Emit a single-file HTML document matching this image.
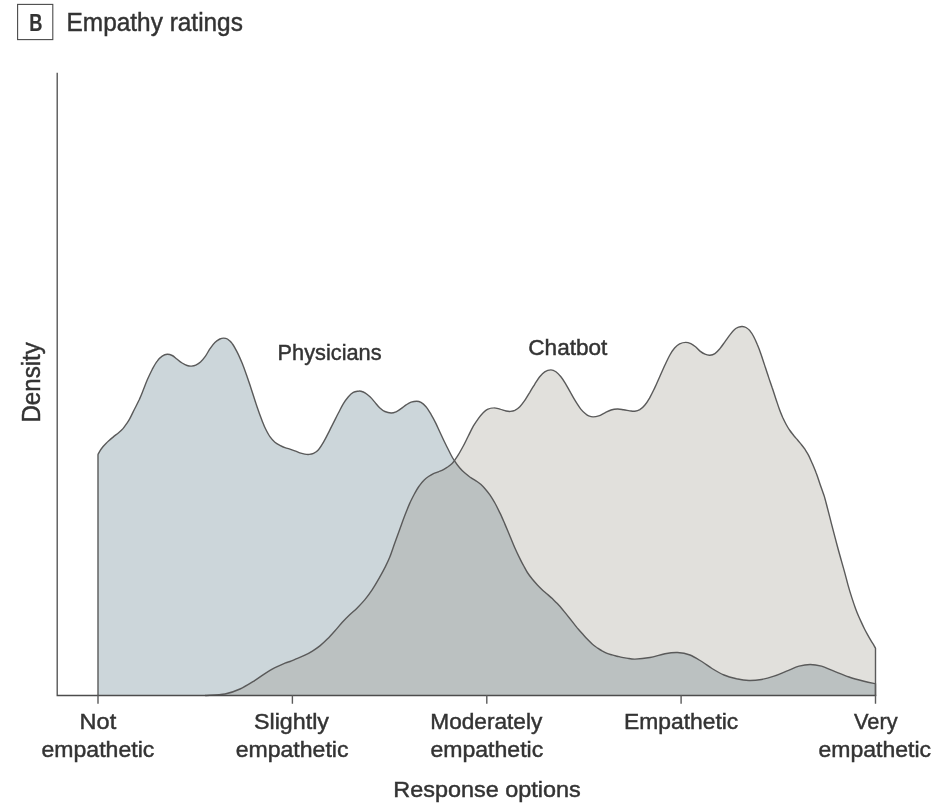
<!DOCTYPE html>
<html lang="en">
<head>
<meta charset="utf-8">
<title>Empathy ratings</title>
<style>
html,body{margin:0;padding:0;background:#fff;}
body{width:932px;height:804px;overflow:hidden;}
svg{display:block;}
text{font-family:"Liberation Sans",sans-serif;fill:#333;stroke:#333;stroke-width:0.45px;}
</style>
</head>
<body>
<svg width="932" height="804" viewBox="0 0 932 804">
<defs>
<clipPath id="pc"><path d="M98,695.5L98,454.5C98.3,454.0 98.9,452.6 99.7,451.3C100.5,450.0 101.8,448.2 102.9,446.8C104.0,445.4 105.1,444.3 106.2,443.2C107.3,442.1 108.2,441.3 109.4,440.2C110.6,439.1 112.1,437.9 113.6,436.6C115.1,435.4 117.0,434.0 118.6,432.7C120.2,431.4 121.7,430.1 123.0,428.6C124.3,427.1 125.6,425.2 126.7,423.6C127.8,422.0 128.8,420.6 129.8,418.7C130.8,416.8 131.9,414.5 132.9,412.4C133.9,410.3 134.9,408.3 136.0,406.2C137.1,404.1 138.1,402.1 139.2,399.8C140.2,397.5 141.0,395.7 142.3,392.4C143.7,389.1 145.6,383.7 147.3,379.8C149.0,375.9 150.7,372.3 152.3,369.2C154.0,366.1 155.5,363.3 157.2,361.1C158.8,358.9 160.5,357.2 162.2,356.1C163.9,355.0 165.5,354.4 167.2,354.3C168.9,354.2 170.5,354.7 172.2,355.5C173.9,356.3 175.5,358.1 177.2,359.3C178.8,360.6 180.4,362.0 182.1,363.0C183.8,364.0 185.5,365.0 187.1,365.5C188.7,366.0 190.1,366.2 191.5,366.1C192.9,366.0 194.3,365.8 195.8,365.1C197.3,364.4 198.9,363.5 200.5,362.0C202.1,360.5 203.9,358.3 205.5,356.1C207.1,353.9 208.4,351.0 210.0,348.7C211.6,346.4 213.2,344.0 214.9,342.4C216.6,340.8 218.5,339.7 219.9,339.0C221.3,338.3 222.3,338.1 223.6,338.1C224.8,338.1 225.9,338.1 227.4,339.0C228.9,339.9 230.7,341.5 232.3,343.7C234.0,345.9 235.6,349.1 237.3,352.4C239.0,355.7 240.6,359.5 242.3,363.6C244.0,367.8 245.6,372.5 247.3,377.3C249.0,382.1 250.7,387.2 252.3,392.2C254.0,397.2 255.5,402.4 257.2,407.2C258.8,412.0 260.8,417.3 262.2,420.9C263.6,424.5 264.2,426.2 265.5,428.8C266.8,431.4 268.3,434.4 269.9,436.6C271.5,438.8 273.2,440.8 274.9,442.2C276.6,443.6 278.2,444.4 279.9,445.3C281.6,446.2 283.2,447.0 284.9,447.6C286.6,448.2 288.2,448.6 289.9,449.1C291.5,449.7 293.1,450.3 294.8,450.9C296.5,451.5 298.1,452.3 299.8,452.8C301.5,453.3 303.2,453.8 304.8,454.1C306.4,454.4 307.7,454.5 309.1,454.4C310.6,454.3 311.9,454.2 313.5,453.4C315.1,452.6 316.8,451.6 318.5,449.7C320.2,447.8 321.9,445.0 323.5,442.2C325.1,439.4 326.8,436.1 328.4,432.9C330.0,429.7 331.7,426.2 333.4,422.9C335.1,419.6 336.7,416.2 338.4,413.0C340.1,409.8 341.7,406.3 343.4,403.6C345.1,400.9 346.8,398.7 348.4,396.8C350.0,394.9 351.6,393.3 353.3,392.4C355.0,391.5 357.1,391.4 358.3,391.2C359.6,391.0 359.7,390.9 360.8,391.2C361.9,391.5 363.5,391.9 365.0,392.8C366.5,393.7 368.3,395.2 370.0,396.8C371.7,398.4 373.4,400.5 375.0,402.4C376.6,404.3 378.2,406.5 379.9,408.0C381.5,409.5 383.0,410.7 384.9,411.5C386.8,412.3 389.2,412.9 391.1,413.0C393.0,413.1 394.4,412.5 396.1,411.8C397.8,411.1 399.4,409.8 401.1,408.6C402.8,407.5 404.4,406.0 406.1,404.9C407.8,403.8 409.3,402.8 411.1,402.2C412.9,401.6 415.1,401.2 416.7,401.2C418.3,401.2 419.4,401.5 421.0,402.4C422.6,403.3 424.3,404.8 426.0,406.8C427.7,408.8 429.3,411.5 431.0,414.3C432.7,417.1 434.4,420.3 436.0,423.6C437.6,426.9 439.2,430.7 440.9,434.2C442.5,437.7 444.2,441.3 445.9,444.7C447.6,448.1 449.5,452.0 450.9,454.7C452.3,457.4 452.9,458.5 454.4,460.7C455.8,462.9 457.9,465.8 459.6,467.8C461.3,469.8 462.7,471.2 464.6,472.8C466.5,474.4 468.7,476.2 470.8,477.7C472.9,479.1 475.3,480.4 477.0,481.5C478.7,482.6 479.7,483.4 481.0,484.6C482.3,485.8 483.5,487.0 485.0,488.7C486.5,490.4 488.2,492.5 489.9,494.9C491.5,497.3 493.2,500.0 494.9,503.0C496.6,506.0 498.2,509.4 499.9,512.9C501.6,516.4 503.2,520.2 504.9,524.1C506.6,528.0 508.2,532.0 509.9,536.0C511.5,540.0 513.1,544.1 514.8,547.8C516.4,551.5 518.3,555.4 519.8,558.4C521.2,561.4 522.2,563.1 523.5,565.5C524.8,567.9 525.9,570.2 527.4,572.5C528.9,574.8 530.7,577.2 532.4,579.3C534.1,581.4 535.7,583.1 537.4,584.9C539.1,586.7 540.7,588.3 542.4,589.9C544.1,591.5 545.8,592.8 547.4,594.3C549.0,595.8 550.6,597.0 552.3,598.6C553.9,600.2 555.6,601.8 557.3,603.6C559.0,605.4 560.6,607.2 562.3,609.2C564.0,611.2 565.6,613.3 567.3,615.4C569.0,617.5 570.6,619.5 572.3,621.6C573.9,623.7 575.6,625.9 577.2,627.9C578.9,629.9 580.5,631.6 582.2,633.5C583.9,635.4 585.5,637.4 587.2,639.1C588.9,640.9 590.5,642.5 592.2,644.0C593.9,645.5 595.6,646.6 597.2,647.8C598.9,648.9 600.5,650.0 602.1,650.9C603.8,651.8 605.4,652.7 607.1,653.4C608.8,654.1 610.4,654.4 612.1,654.9C613.8,655.4 615.5,655.8 617.1,656.2C618.8,656.6 620.4,657.1 622.0,657.4C623.6,657.7 624.8,657.8 627.0,658.1C629.2,658.4 631.2,659.2 635.0,659.1C638.8,659.0 645.0,658.4 650.0,657.5C655.0,656.6 660.4,654.6 665.0,653.8C669.6,652.9 673.3,652.3 677.5,652.5C681.7,652.7 685.8,653.4 690.0,655.0C694.2,656.6 698.8,659.8 702.5,662.0C706.2,664.2 708.4,666.3 712.0,668.5C715.6,670.7 719.9,673.3 724.0,675.0C728.1,676.7 732.3,677.8 736.5,678.8C740.7,679.7 744.8,680.4 749.0,680.5C753.2,680.6 757.3,680.2 761.5,679.5C765.7,678.8 769.8,677.6 774.0,676.2C778.2,674.9 782.3,672.9 786.5,671.2C790.7,669.6 795.0,667.4 799.0,666.2C803.0,665.1 806.5,664.5 810.2,664.5C814.0,664.5 817.5,665.1 821.5,666.2C825.5,667.4 829.4,669.5 834.0,671.2C838.6,673.0 844.0,675.3 849.0,677.0C854.0,678.7 859.6,680.1 864.0,681.2C868.4,682.4 873.6,683.3 875.5,683.7L875.5,695.5Z"/></clipPath>
</defs>
<rect x="0" y="0" width="932" height="804" fill="#fff"/>
<!-- panel letter -->
<rect x="17.6" y="4.4" width="35.2" height="35.2" fill="#fff" stroke="#4a4a4a" stroke-width="1.1"/>
<text x="29.2" y="30.5" font-size="23.5" font-weight="bold" textLength="13.2" lengthAdjust="spacingAndGlyphs" style="stroke-width:0.2px">B</text>
<text x="66.6" y="30.9" font-size="25" textLength="176.3" lengthAdjust="spacingAndGlyphs">Empathy ratings</text>
<!-- areas -->
<path d="M98,695.5L98,454.5C98.3,454.0 98.9,452.6 99.7,451.3C100.5,450.0 101.8,448.2 102.9,446.8C104.0,445.4 105.1,444.3 106.2,443.2C107.3,442.1 108.2,441.3 109.4,440.2C110.6,439.1 112.1,437.9 113.6,436.6C115.1,435.4 117.0,434.0 118.6,432.7C120.2,431.4 121.7,430.1 123.0,428.6C124.3,427.1 125.6,425.2 126.7,423.6C127.8,422.0 128.8,420.6 129.8,418.7C130.8,416.8 131.9,414.5 132.9,412.4C133.9,410.3 134.9,408.3 136.0,406.2C137.1,404.1 138.1,402.1 139.2,399.8C140.2,397.5 141.0,395.7 142.3,392.4C143.7,389.1 145.6,383.7 147.3,379.8C149.0,375.9 150.7,372.3 152.3,369.2C154.0,366.1 155.5,363.3 157.2,361.1C158.8,358.9 160.5,357.2 162.2,356.1C163.9,355.0 165.5,354.4 167.2,354.3C168.9,354.2 170.5,354.7 172.2,355.5C173.9,356.3 175.5,358.1 177.2,359.3C178.8,360.6 180.4,362.0 182.1,363.0C183.8,364.0 185.5,365.0 187.1,365.5C188.7,366.0 190.1,366.2 191.5,366.1C192.9,366.0 194.3,365.8 195.8,365.1C197.3,364.4 198.9,363.5 200.5,362.0C202.1,360.5 203.9,358.3 205.5,356.1C207.1,353.9 208.4,351.0 210.0,348.7C211.6,346.4 213.2,344.0 214.9,342.4C216.6,340.8 218.5,339.7 219.9,339.0C221.3,338.3 222.3,338.1 223.6,338.1C224.8,338.1 225.9,338.1 227.4,339.0C228.9,339.9 230.7,341.5 232.3,343.7C234.0,345.9 235.6,349.1 237.3,352.4C239.0,355.7 240.6,359.5 242.3,363.6C244.0,367.8 245.6,372.5 247.3,377.3C249.0,382.1 250.7,387.2 252.3,392.2C254.0,397.2 255.5,402.4 257.2,407.2C258.8,412.0 260.8,417.3 262.2,420.9C263.6,424.5 264.2,426.2 265.5,428.8C266.8,431.4 268.3,434.4 269.9,436.6C271.5,438.8 273.2,440.8 274.9,442.2C276.6,443.6 278.2,444.4 279.9,445.3C281.6,446.2 283.2,447.0 284.9,447.6C286.6,448.2 288.2,448.6 289.9,449.1C291.5,449.7 293.1,450.3 294.8,450.9C296.5,451.5 298.1,452.3 299.8,452.8C301.5,453.3 303.2,453.8 304.8,454.1C306.4,454.4 307.7,454.5 309.1,454.4C310.6,454.3 311.9,454.2 313.5,453.4C315.1,452.6 316.8,451.6 318.5,449.7C320.2,447.8 321.9,445.0 323.5,442.2C325.1,439.4 326.8,436.1 328.4,432.9C330.0,429.7 331.7,426.2 333.4,422.9C335.1,419.6 336.7,416.2 338.4,413.0C340.1,409.8 341.7,406.3 343.4,403.6C345.1,400.9 346.8,398.7 348.4,396.8C350.0,394.9 351.6,393.3 353.3,392.4C355.0,391.5 357.1,391.4 358.3,391.2C359.6,391.0 359.7,390.9 360.8,391.2C361.9,391.5 363.5,391.9 365.0,392.8C366.5,393.7 368.3,395.2 370.0,396.8C371.7,398.4 373.4,400.5 375.0,402.4C376.6,404.3 378.2,406.5 379.9,408.0C381.5,409.5 383.0,410.7 384.9,411.5C386.8,412.3 389.2,412.9 391.1,413.0C393.0,413.1 394.4,412.5 396.1,411.8C397.8,411.1 399.4,409.8 401.1,408.6C402.8,407.5 404.4,406.0 406.1,404.9C407.8,403.8 409.3,402.8 411.1,402.2C412.9,401.6 415.1,401.2 416.7,401.2C418.3,401.2 419.4,401.5 421.0,402.4C422.6,403.3 424.3,404.8 426.0,406.8C427.7,408.8 429.3,411.5 431.0,414.3C432.7,417.1 434.4,420.3 436.0,423.6C437.6,426.9 439.2,430.7 440.9,434.2C442.5,437.7 444.2,441.3 445.9,444.7C447.6,448.1 449.5,452.0 450.9,454.7C452.3,457.4 452.9,458.5 454.4,460.7C455.8,462.9 457.9,465.8 459.6,467.8C461.3,469.8 462.7,471.2 464.6,472.8C466.5,474.4 468.7,476.2 470.8,477.7C472.9,479.1 475.3,480.4 477.0,481.5C478.7,482.6 479.7,483.4 481.0,484.6C482.3,485.8 483.5,487.0 485.0,488.7C486.5,490.4 488.2,492.5 489.9,494.9C491.5,497.3 493.2,500.0 494.9,503.0C496.6,506.0 498.2,509.4 499.9,512.9C501.6,516.4 503.2,520.2 504.9,524.1C506.6,528.0 508.2,532.0 509.9,536.0C511.5,540.0 513.1,544.1 514.8,547.8C516.4,551.5 518.3,555.4 519.8,558.4C521.2,561.4 522.2,563.1 523.5,565.5C524.8,567.9 525.9,570.2 527.4,572.5C528.9,574.8 530.7,577.2 532.4,579.3C534.1,581.4 535.7,583.1 537.4,584.9C539.1,586.7 540.7,588.3 542.4,589.9C544.1,591.5 545.8,592.8 547.4,594.3C549.0,595.8 550.6,597.0 552.3,598.6C553.9,600.2 555.6,601.8 557.3,603.6C559.0,605.4 560.6,607.2 562.3,609.2C564.0,611.2 565.6,613.3 567.3,615.4C569.0,617.5 570.6,619.5 572.3,621.6C573.9,623.7 575.6,625.9 577.2,627.9C578.9,629.9 580.5,631.6 582.2,633.5C583.9,635.4 585.5,637.4 587.2,639.1C588.9,640.9 590.5,642.5 592.2,644.0C593.9,645.5 595.6,646.6 597.2,647.8C598.9,648.9 600.5,650.0 602.1,650.9C603.8,651.8 605.4,652.7 607.1,653.4C608.8,654.1 610.4,654.4 612.1,654.9C613.8,655.4 615.5,655.8 617.1,656.2C618.8,656.6 620.4,657.1 622.0,657.4C623.6,657.7 624.8,657.8 627.0,658.1C629.2,658.4 631.2,659.2 635.0,659.1C638.8,659.0 645.0,658.4 650.0,657.5C655.0,656.6 660.4,654.6 665.0,653.8C669.6,652.9 673.3,652.3 677.5,652.5C681.7,652.7 685.8,653.4 690.0,655.0C694.2,656.6 698.8,659.8 702.5,662.0C706.2,664.2 708.4,666.3 712.0,668.5C715.6,670.7 719.9,673.3 724.0,675.0C728.1,676.7 732.3,677.8 736.5,678.8C740.7,679.7 744.8,680.4 749.0,680.5C753.2,680.6 757.3,680.2 761.5,679.5C765.7,678.8 769.8,677.6 774.0,676.2C778.2,674.9 782.3,672.9 786.5,671.2C790.7,669.6 795.0,667.4 799.0,666.2C803.0,665.1 806.5,664.5 810.2,664.5C814.0,664.5 817.5,665.1 821.5,666.2C825.5,667.4 829.4,669.5 834.0,671.2C838.6,673.0 844.0,675.3 849.0,677.0C854.0,678.7 859.6,680.1 864.0,681.2C868.4,682.4 873.6,683.3 875.5,683.7L875.5,695.5Z" fill="#ccd6da"/>
<path d="M205.0,695.5C208.3,695.2 219.2,695.1 225.0,694.0C230.8,692.9 235.0,691.3 240.0,689.0C245.0,686.7 250.0,683.4 255.0,680.3C260.0,677.2 265.0,673.1 270.0,670.3C275.0,667.4 281.7,664.7 285.0,663.2C288.3,661.7 287.9,662.3 290.0,661.5C292.1,660.7 295.0,659.4 297.5,658.4C300.0,657.4 302.4,656.4 304.9,655.2C307.4,654.0 309.9,652.7 312.4,651.1C314.9,649.5 317.4,647.9 319.9,645.9C322.4,643.9 324.8,641.6 327.3,639.1C329.8,636.6 332.3,633.8 334.8,631.0C337.3,628.2 339.8,625.0 342.3,622.3C344.8,619.6 347.2,617.2 349.7,614.8C352.2,612.4 354.7,610.4 357.2,607.9C359.7,605.4 362.2,602.9 364.7,599.9C367.2,596.9 369.6,593.6 372.1,589.9C374.6,586.1 377.4,581.3 379.6,577.4C381.8,573.5 383.7,570.0 385.4,566.6C387.1,563.2 388.4,560.6 389.9,556.8C391.4,552.9 393.0,548.0 394.6,543.5C396.2,539.0 397.9,534.4 399.6,529.8C401.3,525.2 402.9,520.5 404.6,516.1C406.3,511.7 407.9,507.5 409.6,503.6C411.3,499.7 413.4,495.8 415.0,492.8C416.6,489.8 417.9,487.9 419.3,485.8C420.8,483.7 422.2,481.9 423.7,480.4C425.2,478.8 426.9,477.6 428.5,476.5C430.1,475.4 431.9,474.4 433.5,473.6C435.1,472.8 436.8,472.5 438.4,471.8C440.0,471.1 441.7,470.5 443.4,469.6C445.1,468.7 446.9,467.5 448.4,466.5C449.8,465.5 451.1,464.4 452.1,463.4C453.1,462.4 453.3,462.1 454.4,460.7C455.4,459.2 456.9,457.1 458.4,454.7C459.9,452.2 461.6,449.1 463.3,446.0C465.0,442.9 466.6,439.3 468.3,436.0C470.0,432.7 471.6,429.1 473.3,426.1C475.0,423.2 477.0,420.4 478.5,418.3C480.0,416.2 481.0,415.0 482.5,413.5C484.0,412.0 485.5,410.3 487.4,409.4C489.3,408.5 491.6,407.9 493.7,407.9C495.8,407.8 497.8,408.6 499.9,409.1C502.0,409.6 504.3,410.6 506.1,411.0C507.9,411.4 509.1,411.5 510.5,411.4C511.9,411.3 513.2,411.2 514.8,410.4C516.3,409.6 518.1,408.4 519.8,406.7C521.5,405.0 523.1,402.8 524.8,400.4C526.5,398.0 528.1,395.0 529.8,392.3C531.4,389.6 533.1,386.9 534.7,384.3C536.4,381.7 538.0,378.9 539.7,376.8C541.4,374.7 542.8,373.0 544.7,371.8C546.6,370.6 549.0,369.9 550.9,369.9C552.8,369.9 554.2,370.6 555.9,371.8C557.6,373.0 559.2,374.7 560.9,376.8C562.6,378.9 564.2,381.6 565.9,384.3C567.5,387.0 569.1,390.1 570.8,393.0C572.4,395.9 574.1,399.0 575.8,401.7C577.5,404.4 579.2,407.1 580.8,409.1C582.4,411.1 584.2,412.7 585.5,413.8C586.8,414.9 587.4,415.4 588.7,415.9C590.0,416.4 591.4,416.9 593.1,416.9C594.8,416.9 596.7,416.6 598.7,415.9C600.7,415.2 602.8,413.8 604.9,412.8C607.0,411.8 609.0,410.6 611.1,410.0C613.2,409.4 615.3,409.1 617.4,409.0C619.5,408.9 621.5,409.4 623.6,409.7C625.7,410.0 627.9,410.6 629.8,410.9C631.7,411.1 633.1,411.4 634.8,411.2C636.5,411.0 638.1,410.7 639.8,409.7C641.4,408.7 643.1,407.3 644.7,405.3C646.4,403.3 648.0,400.7 649.7,397.8C651.4,394.9 653.0,391.4 654.7,387.9C656.4,384.4 658.0,380.4 659.7,376.7C661.4,373.0 663.1,369.0 664.7,365.5C666.4,362.0 668.0,358.4 669.6,355.5C671.2,352.6 672.9,349.9 674.6,348.0C676.3,346.1 677.7,344.8 679.6,343.9C681.5,343.0 683.9,342.4 685.8,342.4C687.7,342.4 689.2,343.0 690.8,343.7C692.4,344.4 694.0,345.6 695.5,346.8C697.0,348.0 698.4,349.9 700.0,351.1C701.6,352.3 703.4,353.5 705.0,354.2C706.6,354.9 708.2,355.3 709.9,355.2C711.5,355.1 713.2,354.7 714.9,353.6C716.6,352.5 718.2,350.6 719.9,348.6C721.6,346.6 723.2,344.1 724.9,341.8C726.6,339.5 728.2,337.0 729.9,334.9C731.5,332.8 733.3,330.6 734.8,329.3C736.2,328.0 737.4,327.7 738.6,327.2C739.9,326.7 741.1,326.4 742.3,326.5C743.5,326.6 744.8,326.8 746.0,327.5C747.2,328.2 748.5,329.2 749.8,330.6C751.0,332.1 752.3,333.9 753.5,336.2C754.7,338.5 756.0,341.3 757.2,344.3C758.5,347.3 759.8,350.7 761.0,354.2C762.2,357.7 763.5,361.7 764.7,365.4C765.9,369.1 767.1,372.9 768.4,376.6C769.6,380.3 771.0,384.1 772.2,387.8C773.5,391.5 774.7,395.5 775.9,399.0C777.1,402.5 778.2,405.9 779.3,409.0C780.4,412.1 781.5,414.7 782.6,417.3C783.8,419.9 785.0,422.3 786.2,424.5C787.4,426.7 788.6,428.7 789.9,430.5C791.1,432.3 792.5,433.9 793.7,435.5C795.0,437.1 796.2,438.4 797.4,439.8C798.6,441.2 799.9,442.6 801.1,444.2C802.4,445.8 803.6,447.3 804.9,449.2C806.1,451.1 807.4,453.0 808.6,455.4C809.8,457.8 811.0,460.6 812.3,463.5C813.5,466.4 814.9,469.5 816.1,472.8C817.4,476.1 818.6,479.9 819.8,483.4C821.0,486.9 822.6,491.3 823.5,494.0C824.4,496.7 823.9,494.8 825.2,499.5C826.5,504.2 829.1,514.5 831.1,522.3C833.1,530.0 835.2,538.1 837.3,546.0C839.4,553.9 842.1,563.2 843.9,569.6C845.7,576.0 846.6,579.9 847.9,584.6C849.2,589.3 850.6,593.9 851.9,597.9C853.2,601.9 854.5,605.7 855.6,608.7C856.7,611.7 857.4,613.4 858.4,615.7C859.4,618.0 860.4,620.2 861.4,622.4C862.4,624.6 863.4,626.7 864.4,628.7C865.4,630.7 866.4,632.5 867.4,634.3C868.4,636.1 869.4,637.9 870.4,639.6C871.4,641.3 872.5,643.0 873.4,644.4C874.2,645.8 875.1,647.5 875.5,648.1L875.5,695.5Z" fill="#e1e0dc"/>
<path d="M205.0,695.5C208.3,695.2 219.2,695.1 225.0,694.0C230.8,692.9 235.0,691.3 240.0,689.0C245.0,686.7 250.0,683.4 255.0,680.3C260.0,677.2 265.0,673.1 270.0,670.3C275.0,667.4 281.7,664.7 285.0,663.2C288.3,661.7 287.9,662.3 290.0,661.5C292.1,660.7 295.0,659.4 297.5,658.4C300.0,657.4 302.4,656.4 304.9,655.2C307.4,654.0 309.9,652.7 312.4,651.1C314.9,649.5 317.4,647.9 319.9,645.9C322.4,643.9 324.8,641.6 327.3,639.1C329.8,636.6 332.3,633.8 334.8,631.0C337.3,628.2 339.8,625.0 342.3,622.3C344.8,619.6 347.2,617.2 349.7,614.8C352.2,612.4 354.7,610.4 357.2,607.9C359.7,605.4 362.2,602.9 364.7,599.9C367.2,596.9 369.6,593.6 372.1,589.9C374.6,586.1 377.4,581.3 379.6,577.4C381.8,573.5 383.7,570.0 385.4,566.6C387.1,563.2 388.4,560.6 389.9,556.8C391.4,552.9 393.0,548.0 394.6,543.5C396.2,539.0 397.9,534.4 399.6,529.8C401.3,525.2 402.9,520.5 404.6,516.1C406.3,511.7 407.9,507.5 409.6,503.6C411.3,499.7 413.4,495.8 415.0,492.8C416.6,489.8 417.9,487.9 419.3,485.8C420.8,483.7 422.2,481.9 423.7,480.4C425.2,478.8 426.9,477.6 428.5,476.5C430.1,475.4 431.9,474.4 433.5,473.6C435.1,472.8 436.8,472.5 438.4,471.8C440.0,471.1 441.7,470.5 443.4,469.6C445.1,468.7 446.9,467.5 448.4,466.5C449.8,465.5 451.1,464.4 452.1,463.4C453.1,462.4 453.3,462.1 454.4,460.7C455.4,459.2 456.9,457.1 458.4,454.7C459.9,452.2 461.6,449.1 463.3,446.0C465.0,442.9 466.6,439.3 468.3,436.0C470.0,432.7 471.6,429.1 473.3,426.1C475.0,423.2 477.0,420.4 478.5,418.3C480.0,416.2 481.0,415.0 482.5,413.5C484.0,412.0 485.5,410.3 487.4,409.4C489.3,408.5 491.6,407.9 493.7,407.9C495.8,407.8 497.8,408.6 499.9,409.1C502.0,409.6 504.3,410.6 506.1,411.0C507.9,411.4 509.1,411.5 510.5,411.4C511.9,411.3 513.2,411.2 514.8,410.4C516.3,409.6 518.1,408.4 519.8,406.7C521.5,405.0 523.1,402.8 524.8,400.4C526.5,398.0 528.1,395.0 529.8,392.3C531.4,389.6 533.1,386.9 534.7,384.3C536.4,381.7 538.0,378.9 539.7,376.8C541.4,374.7 542.8,373.0 544.7,371.8C546.6,370.6 549.0,369.9 550.9,369.9C552.8,369.9 554.2,370.6 555.9,371.8C557.6,373.0 559.2,374.7 560.9,376.8C562.6,378.9 564.2,381.6 565.9,384.3C567.5,387.0 569.1,390.1 570.8,393.0C572.4,395.9 574.1,399.0 575.8,401.7C577.5,404.4 579.2,407.1 580.8,409.1C582.4,411.1 584.2,412.7 585.5,413.8C586.8,414.9 587.4,415.4 588.7,415.9C590.0,416.4 591.4,416.9 593.1,416.9C594.8,416.9 596.7,416.6 598.7,415.9C600.7,415.2 602.8,413.8 604.9,412.8C607.0,411.8 609.0,410.6 611.1,410.0C613.2,409.4 615.3,409.1 617.4,409.0C619.5,408.9 621.5,409.4 623.6,409.7C625.7,410.0 627.9,410.6 629.8,410.9C631.7,411.1 633.1,411.4 634.8,411.2C636.5,411.0 638.1,410.7 639.8,409.7C641.4,408.7 643.1,407.3 644.7,405.3C646.4,403.3 648.0,400.7 649.7,397.8C651.4,394.9 653.0,391.4 654.7,387.9C656.4,384.4 658.0,380.4 659.7,376.7C661.4,373.0 663.1,369.0 664.7,365.5C666.4,362.0 668.0,358.4 669.6,355.5C671.2,352.6 672.9,349.9 674.6,348.0C676.3,346.1 677.7,344.8 679.6,343.9C681.5,343.0 683.9,342.4 685.8,342.4C687.7,342.4 689.2,343.0 690.8,343.7C692.4,344.4 694.0,345.6 695.5,346.8C697.0,348.0 698.4,349.9 700.0,351.1C701.6,352.3 703.4,353.5 705.0,354.2C706.6,354.9 708.2,355.3 709.9,355.2C711.5,355.1 713.2,354.7 714.9,353.6C716.6,352.5 718.2,350.6 719.9,348.6C721.6,346.6 723.2,344.1 724.9,341.8C726.6,339.5 728.2,337.0 729.9,334.9C731.5,332.8 733.3,330.6 734.8,329.3C736.2,328.0 737.4,327.7 738.6,327.2C739.9,326.7 741.1,326.4 742.3,326.5C743.5,326.6 744.8,326.8 746.0,327.5C747.2,328.2 748.5,329.2 749.8,330.6C751.0,332.1 752.3,333.9 753.5,336.2C754.7,338.5 756.0,341.3 757.2,344.3C758.5,347.3 759.8,350.7 761.0,354.2C762.2,357.7 763.5,361.7 764.7,365.4C765.9,369.1 767.1,372.9 768.4,376.6C769.6,380.3 771.0,384.1 772.2,387.8C773.5,391.5 774.7,395.5 775.9,399.0C777.1,402.5 778.2,405.9 779.3,409.0C780.4,412.1 781.5,414.7 782.6,417.3C783.8,419.9 785.0,422.3 786.2,424.5C787.4,426.7 788.6,428.7 789.9,430.5C791.1,432.3 792.5,433.9 793.7,435.5C795.0,437.1 796.2,438.4 797.4,439.8C798.6,441.2 799.9,442.6 801.1,444.2C802.4,445.8 803.6,447.3 804.9,449.2C806.1,451.1 807.4,453.0 808.6,455.4C809.8,457.8 811.0,460.6 812.3,463.5C813.5,466.4 814.9,469.5 816.1,472.8C817.4,476.1 818.6,479.9 819.8,483.4C821.0,486.9 822.6,491.3 823.5,494.0C824.4,496.7 823.9,494.8 825.2,499.5C826.5,504.2 829.1,514.5 831.1,522.3C833.1,530.0 835.2,538.1 837.3,546.0C839.4,553.9 842.1,563.2 843.9,569.6C845.7,576.0 846.6,579.9 847.9,584.6C849.2,589.3 850.6,593.9 851.9,597.9C853.2,601.9 854.5,605.7 855.6,608.7C856.7,611.7 857.4,613.4 858.4,615.7C859.4,618.0 860.4,620.2 861.4,622.4C862.4,624.6 863.4,626.7 864.4,628.7C865.4,630.7 866.4,632.5 867.4,634.3C868.4,636.1 869.4,637.9 870.4,639.6C871.4,641.3 872.5,643.0 873.4,644.4C874.2,645.8 875.1,647.5 875.5,648.1L875.5,695.5Z" fill="#bbc1c1" clip-path="url(#pc)"/>
<path d="M98,695.5L98,454.5C98.3,454.0 98.9,452.6 99.7,451.3C100.5,450.0 101.8,448.2 102.9,446.8C104.0,445.4 105.1,444.3 106.2,443.2C107.3,442.1 108.2,441.3 109.4,440.2C110.6,439.1 112.1,437.9 113.6,436.6C115.1,435.4 117.0,434.0 118.6,432.7C120.2,431.4 121.7,430.1 123.0,428.6C124.3,427.1 125.6,425.2 126.7,423.6C127.8,422.0 128.8,420.6 129.8,418.7C130.8,416.8 131.9,414.5 132.9,412.4C133.9,410.3 134.9,408.3 136.0,406.2C137.1,404.1 138.1,402.1 139.2,399.8C140.2,397.5 141.0,395.7 142.3,392.4C143.7,389.1 145.6,383.7 147.3,379.8C149.0,375.9 150.7,372.3 152.3,369.2C154.0,366.1 155.5,363.3 157.2,361.1C158.8,358.9 160.5,357.2 162.2,356.1C163.9,355.0 165.5,354.4 167.2,354.3C168.9,354.2 170.5,354.7 172.2,355.5C173.9,356.3 175.5,358.1 177.2,359.3C178.8,360.6 180.4,362.0 182.1,363.0C183.8,364.0 185.5,365.0 187.1,365.5C188.7,366.0 190.1,366.2 191.5,366.1C192.9,366.0 194.3,365.8 195.8,365.1C197.3,364.4 198.9,363.5 200.5,362.0C202.1,360.5 203.9,358.3 205.5,356.1C207.1,353.9 208.4,351.0 210.0,348.7C211.6,346.4 213.2,344.0 214.9,342.4C216.6,340.8 218.5,339.7 219.9,339.0C221.3,338.3 222.3,338.1 223.6,338.1C224.8,338.1 225.9,338.1 227.4,339.0C228.9,339.9 230.7,341.5 232.3,343.7C234.0,345.9 235.6,349.1 237.3,352.4C239.0,355.7 240.6,359.5 242.3,363.6C244.0,367.8 245.6,372.5 247.3,377.3C249.0,382.1 250.7,387.2 252.3,392.2C254.0,397.2 255.5,402.4 257.2,407.2C258.8,412.0 260.8,417.3 262.2,420.9C263.6,424.5 264.2,426.2 265.5,428.8C266.8,431.4 268.3,434.4 269.9,436.6C271.5,438.8 273.2,440.8 274.9,442.2C276.6,443.6 278.2,444.4 279.9,445.3C281.6,446.2 283.2,447.0 284.9,447.6C286.6,448.2 288.2,448.6 289.9,449.1C291.5,449.7 293.1,450.3 294.8,450.9C296.5,451.5 298.1,452.3 299.8,452.8C301.5,453.3 303.2,453.8 304.8,454.1C306.4,454.4 307.7,454.5 309.1,454.4C310.6,454.3 311.9,454.2 313.5,453.4C315.1,452.6 316.8,451.6 318.5,449.7C320.2,447.8 321.9,445.0 323.5,442.2C325.1,439.4 326.8,436.1 328.4,432.9C330.0,429.7 331.7,426.2 333.4,422.9C335.1,419.6 336.7,416.2 338.4,413.0C340.1,409.8 341.7,406.3 343.4,403.6C345.1,400.9 346.8,398.7 348.4,396.8C350.0,394.9 351.6,393.3 353.3,392.4C355.0,391.5 357.1,391.4 358.3,391.2C359.6,391.0 359.7,390.9 360.8,391.2C361.9,391.5 363.5,391.9 365.0,392.8C366.5,393.7 368.3,395.2 370.0,396.8C371.7,398.4 373.4,400.5 375.0,402.4C376.6,404.3 378.2,406.5 379.9,408.0C381.5,409.5 383.0,410.7 384.9,411.5C386.8,412.3 389.2,412.9 391.1,413.0C393.0,413.1 394.4,412.5 396.1,411.8C397.8,411.1 399.4,409.8 401.1,408.6C402.8,407.5 404.4,406.0 406.1,404.9C407.8,403.8 409.3,402.8 411.1,402.2C412.9,401.6 415.1,401.2 416.7,401.2C418.3,401.2 419.4,401.5 421.0,402.4C422.6,403.3 424.3,404.8 426.0,406.8C427.7,408.8 429.3,411.5 431.0,414.3C432.7,417.1 434.4,420.3 436.0,423.6C437.6,426.9 439.2,430.7 440.9,434.2C442.5,437.7 444.2,441.3 445.9,444.7C447.6,448.1 449.5,452.0 450.9,454.7C452.3,457.4 452.9,458.5 454.4,460.7C455.8,462.9 457.9,465.8 459.6,467.8C461.3,469.8 462.7,471.2 464.6,472.8C466.5,474.4 468.7,476.2 470.8,477.7C472.9,479.1 475.3,480.4 477.0,481.5C478.7,482.6 479.7,483.4 481.0,484.6C482.3,485.8 483.5,487.0 485.0,488.7C486.5,490.4 488.2,492.5 489.9,494.9C491.5,497.3 493.2,500.0 494.9,503.0C496.6,506.0 498.2,509.4 499.9,512.9C501.6,516.4 503.2,520.2 504.9,524.1C506.6,528.0 508.2,532.0 509.9,536.0C511.5,540.0 513.1,544.1 514.8,547.8C516.4,551.5 518.3,555.4 519.8,558.4C521.2,561.4 522.2,563.1 523.5,565.5C524.8,567.9 525.9,570.2 527.4,572.5C528.9,574.8 530.7,577.2 532.4,579.3C534.1,581.4 535.7,583.1 537.4,584.9C539.1,586.7 540.7,588.3 542.4,589.9C544.1,591.5 545.8,592.8 547.4,594.3C549.0,595.8 550.6,597.0 552.3,598.6C553.9,600.2 555.6,601.8 557.3,603.6C559.0,605.4 560.6,607.2 562.3,609.2C564.0,611.2 565.6,613.3 567.3,615.4C569.0,617.5 570.6,619.5 572.3,621.6C573.9,623.7 575.6,625.9 577.2,627.9C578.9,629.9 580.5,631.6 582.2,633.5C583.9,635.4 585.5,637.4 587.2,639.1C588.9,640.9 590.5,642.5 592.2,644.0C593.9,645.5 595.6,646.6 597.2,647.8C598.9,648.9 600.5,650.0 602.1,650.9C603.8,651.8 605.4,652.7 607.1,653.4C608.8,654.1 610.4,654.4 612.1,654.9C613.8,655.4 615.5,655.8 617.1,656.2C618.8,656.6 620.4,657.1 622.0,657.4C623.6,657.7 624.8,657.8 627.0,658.1C629.2,658.4 631.2,659.2 635.0,659.1C638.8,659.0 645.0,658.4 650.0,657.5C655.0,656.6 660.4,654.6 665.0,653.8C669.6,652.9 673.3,652.3 677.5,652.5C681.7,652.7 685.8,653.4 690.0,655.0C694.2,656.6 698.8,659.8 702.5,662.0C706.2,664.2 708.4,666.3 712.0,668.5C715.6,670.7 719.9,673.3 724.0,675.0C728.1,676.7 732.3,677.8 736.5,678.8C740.7,679.7 744.8,680.4 749.0,680.5C753.2,680.6 757.3,680.2 761.5,679.5C765.7,678.8 769.8,677.6 774.0,676.2C778.2,674.9 782.3,672.9 786.5,671.2C790.7,669.6 795.0,667.4 799.0,666.2C803.0,665.1 806.5,664.5 810.2,664.5C814.0,664.5 817.5,665.1 821.5,666.2C825.5,667.4 829.4,669.5 834.0,671.2C838.6,673.0 844.0,675.3 849.0,677.0C854.0,678.7 859.6,680.1 864.0,681.2C868.4,682.4 873.6,683.3 875.5,683.7L875.5,695.5" fill="none" stroke="#5a5a5a" stroke-width="1.4" stroke-linejoin="round"/>
<path d="M205.0,695.5C208.3,695.2 219.2,695.1 225.0,694.0C230.8,692.9 235.0,691.3 240.0,689.0C245.0,686.7 250.0,683.4 255.0,680.3C260.0,677.2 265.0,673.1 270.0,670.3C275.0,667.4 281.7,664.7 285.0,663.2C288.3,661.7 287.9,662.3 290.0,661.5C292.1,660.7 295.0,659.4 297.5,658.4C300.0,657.4 302.4,656.4 304.9,655.2C307.4,654.0 309.9,652.7 312.4,651.1C314.9,649.5 317.4,647.9 319.9,645.9C322.4,643.9 324.8,641.6 327.3,639.1C329.8,636.6 332.3,633.8 334.8,631.0C337.3,628.2 339.8,625.0 342.3,622.3C344.8,619.6 347.2,617.2 349.7,614.8C352.2,612.4 354.7,610.4 357.2,607.9C359.7,605.4 362.2,602.9 364.7,599.9C367.2,596.9 369.6,593.6 372.1,589.9C374.6,586.1 377.4,581.3 379.6,577.4C381.8,573.5 383.7,570.0 385.4,566.6C387.1,563.2 388.4,560.6 389.9,556.8C391.4,552.9 393.0,548.0 394.6,543.5C396.2,539.0 397.9,534.4 399.6,529.8C401.3,525.2 402.9,520.5 404.6,516.1C406.3,511.7 407.9,507.5 409.6,503.6C411.3,499.7 413.4,495.8 415.0,492.8C416.6,489.8 417.9,487.9 419.3,485.8C420.8,483.7 422.2,481.9 423.7,480.4C425.2,478.8 426.9,477.6 428.5,476.5C430.1,475.4 431.9,474.4 433.5,473.6C435.1,472.8 436.8,472.5 438.4,471.8C440.0,471.1 441.7,470.5 443.4,469.6C445.1,468.7 446.9,467.5 448.4,466.5C449.8,465.5 451.1,464.4 452.1,463.4C453.1,462.4 453.3,462.1 454.4,460.7C455.4,459.2 456.9,457.1 458.4,454.7C459.9,452.2 461.6,449.1 463.3,446.0C465.0,442.9 466.6,439.3 468.3,436.0C470.0,432.7 471.6,429.1 473.3,426.1C475.0,423.2 477.0,420.4 478.5,418.3C480.0,416.2 481.0,415.0 482.5,413.5C484.0,412.0 485.5,410.3 487.4,409.4C489.3,408.5 491.6,407.9 493.7,407.9C495.8,407.8 497.8,408.6 499.9,409.1C502.0,409.6 504.3,410.6 506.1,411.0C507.9,411.4 509.1,411.5 510.5,411.4C511.9,411.3 513.2,411.2 514.8,410.4C516.3,409.6 518.1,408.4 519.8,406.7C521.5,405.0 523.1,402.8 524.8,400.4C526.5,398.0 528.1,395.0 529.8,392.3C531.4,389.6 533.1,386.9 534.7,384.3C536.4,381.7 538.0,378.9 539.7,376.8C541.4,374.7 542.8,373.0 544.7,371.8C546.6,370.6 549.0,369.9 550.9,369.9C552.8,369.9 554.2,370.6 555.9,371.8C557.6,373.0 559.2,374.7 560.9,376.8C562.6,378.9 564.2,381.6 565.9,384.3C567.5,387.0 569.1,390.1 570.8,393.0C572.4,395.9 574.1,399.0 575.8,401.7C577.5,404.4 579.2,407.1 580.8,409.1C582.4,411.1 584.2,412.7 585.5,413.8C586.8,414.9 587.4,415.4 588.7,415.9C590.0,416.4 591.4,416.9 593.1,416.9C594.8,416.9 596.7,416.6 598.7,415.9C600.7,415.2 602.8,413.8 604.9,412.8C607.0,411.8 609.0,410.6 611.1,410.0C613.2,409.4 615.3,409.1 617.4,409.0C619.5,408.9 621.5,409.4 623.6,409.7C625.7,410.0 627.9,410.6 629.8,410.9C631.7,411.1 633.1,411.4 634.8,411.2C636.5,411.0 638.1,410.7 639.8,409.7C641.4,408.7 643.1,407.3 644.7,405.3C646.4,403.3 648.0,400.7 649.7,397.8C651.4,394.9 653.0,391.4 654.7,387.9C656.4,384.4 658.0,380.4 659.7,376.7C661.4,373.0 663.1,369.0 664.7,365.5C666.4,362.0 668.0,358.4 669.6,355.5C671.2,352.6 672.9,349.9 674.6,348.0C676.3,346.1 677.7,344.8 679.6,343.9C681.5,343.0 683.9,342.4 685.8,342.4C687.7,342.4 689.2,343.0 690.8,343.7C692.4,344.4 694.0,345.6 695.5,346.8C697.0,348.0 698.4,349.9 700.0,351.1C701.6,352.3 703.4,353.5 705.0,354.2C706.6,354.9 708.2,355.3 709.9,355.2C711.5,355.1 713.2,354.7 714.9,353.6C716.6,352.5 718.2,350.6 719.9,348.6C721.6,346.6 723.2,344.1 724.9,341.8C726.6,339.5 728.2,337.0 729.9,334.9C731.5,332.8 733.3,330.6 734.8,329.3C736.2,328.0 737.4,327.7 738.6,327.2C739.9,326.7 741.1,326.4 742.3,326.5C743.5,326.6 744.8,326.8 746.0,327.5C747.2,328.2 748.5,329.2 749.8,330.6C751.0,332.1 752.3,333.9 753.5,336.2C754.7,338.5 756.0,341.3 757.2,344.3C758.5,347.3 759.8,350.7 761.0,354.2C762.2,357.7 763.5,361.7 764.7,365.4C765.9,369.1 767.1,372.9 768.4,376.6C769.6,380.3 771.0,384.1 772.2,387.8C773.5,391.5 774.7,395.5 775.9,399.0C777.1,402.5 778.2,405.9 779.3,409.0C780.4,412.1 781.5,414.7 782.6,417.3C783.8,419.9 785.0,422.3 786.2,424.5C787.4,426.7 788.6,428.7 789.9,430.5C791.1,432.3 792.5,433.9 793.7,435.5C795.0,437.1 796.2,438.4 797.4,439.8C798.6,441.2 799.9,442.6 801.1,444.2C802.4,445.8 803.6,447.3 804.9,449.2C806.1,451.1 807.4,453.0 808.6,455.4C809.8,457.8 811.0,460.6 812.3,463.5C813.5,466.4 814.9,469.5 816.1,472.8C817.4,476.1 818.6,479.9 819.8,483.4C821.0,486.9 822.6,491.3 823.5,494.0C824.4,496.7 823.9,494.8 825.2,499.5C826.5,504.2 829.1,514.5 831.1,522.3C833.1,530.0 835.2,538.1 837.3,546.0C839.4,553.9 842.1,563.2 843.9,569.6C845.7,576.0 846.6,579.9 847.9,584.6C849.2,589.3 850.6,593.9 851.9,597.9C853.2,601.9 854.5,605.7 855.6,608.7C856.7,611.7 857.4,613.4 858.4,615.7C859.4,618.0 860.4,620.2 861.4,622.4C862.4,624.6 863.4,626.7 864.4,628.7C865.4,630.7 866.4,632.5 867.4,634.3C868.4,636.1 869.4,637.9 870.4,639.6C871.4,641.3 872.5,643.0 873.4,644.4C874.2,645.8 875.1,647.5 875.5,648.1L875.5,695.5" fill="none" stroke="#5a5a5a" stroke-width="1.4" stroke-linejoin="round"/>
<!-- axes -->
<path d="M57.2,72.8V695.5H876.2" fill="none" stroke="#4c4c4c" stroke-width="1.3"/>
<path d="M98,695V703.7M292.4,695V703.7M486.8,695V703.7M681.1,695V703.7M875.5,695V703.7" fill="none" stroke="#5a5a5a" stroke-width="1.4"/>
<!-- series labels -->
<text x="277.6" y="359.9" font-size="22" textLength="104" lengthAdjust="spacingAndGlyphs">Physicians</text>
<text x="528.3" y="354.9" font-size="22" textLength="79" lengthAdjust="spacingAndGlyphs">Chatbot</text>
<!-- y label -->
<text transform="translate(39.5,422.6) rotate(-90)" font-size="26" textLength="80.5" lengthAdjust="spacingAndGlyphs">Density</text>
<!-- x tick labels -->
<text x="79.6" y="728.5" font-size="22" textLength="36.6" lengthAdjust="spacingAndGlyphs">Not</text>
<text x="41.5" y="756.8" font-size="22" textLength="112.8" lengthAdjust="spacingAndGlyphs">empathetic</text>
<text x="254" y="728.5" font-size="22" textLength="75" lengthAdjust="spacingAndGlyphs">Slightly</text>
<text x="235.7" y="756.8" font-size="22" textLength="112.8" lengthAdjust="spacingAndGlyphs">empathetic</text>
<text x="430.3" y="728.5" font-size="22" textLength="112" lengthAdjust="spacingAndGlyphs">Moderately</text>
<text x="430.4" y="756.8" font-size="22" textLength="112.9" lengthAdjust="spacingAndGlyphs">empathetic</text>
<text x="624" y="728.5" font-size="22" textLength="114.3" lengthAdjust="spacingAndGlyphs">Empathetic</text>
<text x="854" y="728.5" font-size="22" textLength="43.6" lengthAdjust="spacingAndGlyphs">Very</text>
<text x="818.5" y="756.8" font-size="22" textLength="112.6" lengthAdjust="spacingAndGlyphs">empathetic</text>
<!-- x axis title -->
<text x="393.3" y="796.9" font-size="22" textLength="187.5" lengthAdjust="spacingAndGlyphs">Response options</text>
</svg>
</body>
</html>
